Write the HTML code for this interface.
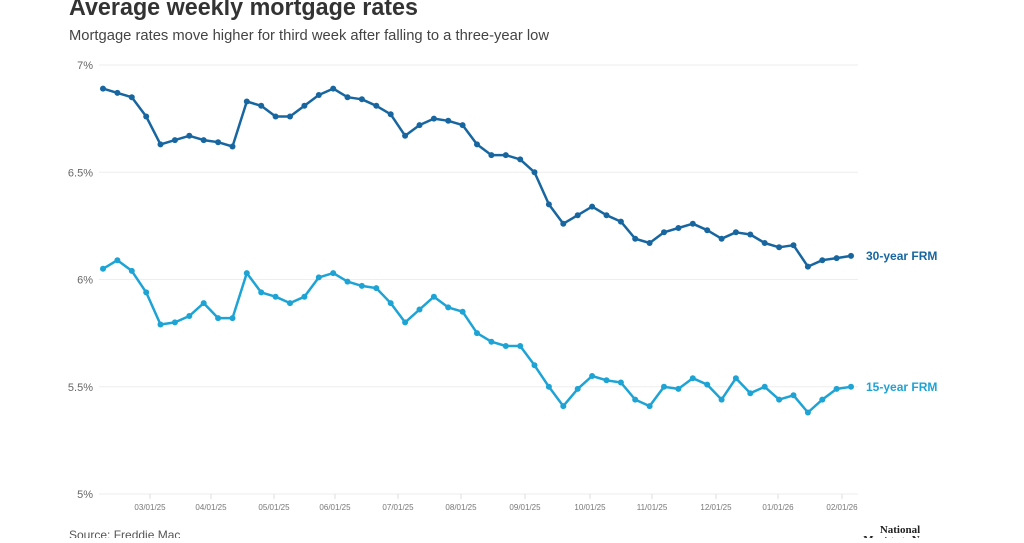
<!DOCTYPE html>
<html><head><meta charset="utf-8"><style>
body{margin:0;background:#fff;width:1024px;height:538px;overflow:hidden;font-family:"Liberation Sans",sans-serif}
</style></head><body>
<svg id="s" width="1024" height="538" xmlns="http://www.w3.org/2000/svg" font-family="Liberation Sans, sans-serif">
<text x="69" y="15" font-size="24" font-weight="bold" fill="#333" textLength="349" lengthAdjust="spacingAndGlyphs">Average weekly mortgage rates</text>
<text x="69" y="40" font-size="14.5" fill="#444" textLength="480" lengthAdjust="spacingAndGlyphs">Mortgage rates move higher for third week after falling to a three-year low</text>
<text x="69" y="539" font-size="12" fill="#555">Source: Freddie Mac</text>
<text x="900" y="533" font-size="11" font-weight="bold" font-family="Liberation Serif, serif" fill="#222" text-anchor="middle">National</text>
<text x="900" y="543" font-size="11" font-weight="bold" font-family="Liberation Serif, serif" fill="#222" text-anchor="middle">Mortgage News</text>
<g id="g"></g>
</svg>
<script>
var g=document.getElementById('g'),h='';
function Y(v){return 65+(7-v)*214.5;}
[7,6.5,6,5.5,5].forEach(function(v,i){var lbl=['7%','6.5%','6%','5.5%','5%'][i];
h+='<line x1="99" x2="858" y1="'+Y(v)+'" y2="'+Y(v)+'" stroke="#eee"/>';
h+='<text x="93" y="'+(Y(v)+4)+'" font-size="11" fill="#666" text-anchor="end">'+lbl+'</text>';});
var tx=[150,211,274,335,398,461,525,590,652,716,778,842],tl=['03/01/25','04/01/25','05/01/25','06/01/25','07/01/25','08/01/25','09/01/25','10/01/25','11/01/25','12/01/25','01/01/26','02/01/26'];
tx.forEach(function(x,i){h+='<line x1="'+x+'" x2="'+x+'" y1="494" y2="499" stroke="#ddd"/><text x="'+x+'" y="510" font-size="8" fill="#777" text-anchor="middle">'+tl[i]+'</text>';});
var a=[6.89,6.87,6.85,6.76,6.63,6.65,6.67,6.65,6.64,6.62,6.83,6.81,6.76,6.76,6.81,6.86,6.89,6.85,6.84,6.81,6.77,6.67,6.72,6.75,6.74,6.72,6.63,6.58,6.58,6.56,6.50,6.35,6.26,6.30,6.34,6.30,6.27,6.19,6.17,6.22,6.24,6.26,6.23,6.19,6.22,6.21,6.17,6.15,6.16,6.06,6.09,6.10,6.11];
var b=[6.05,6.09,6.04,5.94,5.79,5.80,5.83,5.89,5.82,5.82,6.03,5.94,5.92,5.89,5.92,6.01,6.03,5.99,5.97,5.96,5.89,5.80,5.86,5.92,5.87,5.85,5.75,5.71,5.69,5.69,5.60,5.50,5.41,5.49,5.55,5.53,5.52,5.44,5.41,5.50,5.49,5.54,5.51,5.44,5.54,5.47,5.50,5.44,5.46,5.38,5.44,5.49,5.50];
function ser(d,c){var p=d.map(function(v,i){return (103+i*14.385).toFixed(1)+','+Y(v).toFixed(1);});
h+='<polyline points="'+p.join(' ')+'" fill="none" stroke="'+c+'" stroke-width="2.5" stroke-linejoin="round"/>';
p.forEach(function(q){var s=q.split(',');h+='<circle cx="'+s[0]+'" cy="'+s[1]+'" r="3" fill="'+c+'"/>';});}
ser(a,'#1866a0');ser(b,'#1ea3d5');
h+='<text x="866" y="260" font-size="12" font-weight="bold" fill="#1866a0">30-year FRM</text>';
h+='<text x="866" y="391" font-size="12" font-weight="bold" fill="#1ea3d5">15-year FRM</text>';
g.innerHTML=h;
</script>
</body></html>
